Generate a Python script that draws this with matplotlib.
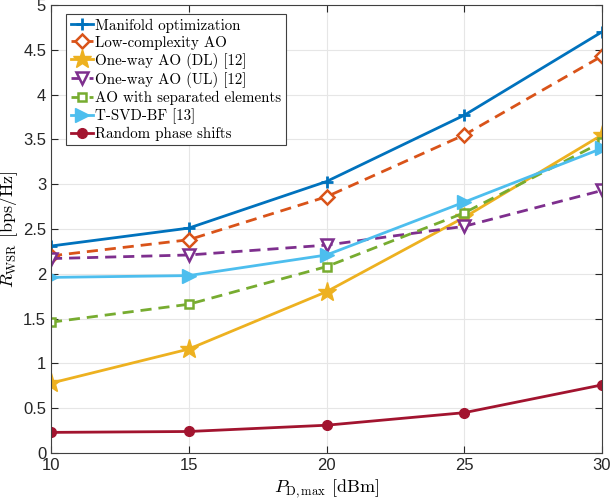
import matplotlib
matplotlib.use("Agg")
import matplotlib.pyplot as plt

plt.rcParams['mathtext.fontset'] = 'cm'

x = [10, 15, 20, 25, 30]
labels = ["Manifold optimization", "Low-complexity AO", "One-way AO (DL) [12]",
          "One-way AO (UL) [12]", "AO with separated elements", "T-SVD-BF [13]",
          "Random phase shifts"]
manifold = [2.31, 2.51, 3.03, 3.77, 4.70]
lowcomp = [2.20, 2.38, 2.86, 3.55, 4.43]
dl = [0.78, 1.16, 1.80, 2.63, 3.55]
ul = [2.17, 2.21, 2.32, 2.53, 2.93]
separated = [1.46, 1.66, 2.08, 2.68, 3.47]
tsvd = [1.96, 1.98, 2.21, 2.80, 3.40]
random_ps = [0.23, 0.24, 0.31, 0.45, 0.76]

series = [manifold, lowcomp, dl, ul, separated, tsvd, random_ps]
colors = ['#0072BD', '#D95319', '#EDB120', '#7E2F8E', '#77AC30', '#4DBEEE', '#A2142F']
styles = [
    dict(ls='-', marker='+', ms=9, mew=2, mfc='none'),
    dict(ls=(0, (4, 2.5)), marker='D', ms=7, mew=1.8, mfc='white'),
    dict(ls='-', marker='*', ms=14, mew=1, mfc=None),
    dict(ls=(0, (4, 2.5)), marker='v', ms=9, mew=1.8, mfc='white'),
    dict(ls=(0, (4, 2.5)), marker='s', ms=6, mew=1.8, mfc='white'),
    dict(ls='-', marker='>', ms=10, mew=1, mfc=None),
    dict(ls='-', marker='o', ms=7, mew=1, mfc=None),
]

fig = plt.figure(figsize=(6.12, 5.0), dpi=100)
ax = fig.add_axes([51/612, 47/500, 551/612, 448/500])

for ys, c, st, lab in zip(series, colors, styles, labels):
    kw = dict(st)
    mfc = kw.pop('mfc')
    if mfc is None:
        mfc = c
    ax.plot(x, ys, color=c, lw=2, mfc=mfc, mec=c, label=lab, **kw)

ax.set_xlim(10, 30)
ax.set_ylim(0, 5)
ax.set_xticks([10, 15, 20, 25, 30])
ax.set_yticks([0, 0.5, 1, 1.5, 2, 2.5, 3, 3.5, 4, 4.5, 5])
ax.set_yticklabels(['0', '0.5', '1', '1.5', '2', '2.5', '3', '3.5', '4', '4.5', '5'])
ax.grid(True, color='#e6e6e6', lw=0.8)
ax.set_axisbelow(True)
ax.tick_params(direction='in', top=True, right=True, labelsize=12, colors='#262626', length=5)
for lbl in ax.get_xticklabels() + ax.get_yticklabels():
    lbl.set_family('Liberation Sans')
for s in ax.spines.values():
    s.set_color('#404040')
    s.set_linewidth(0.8)

ax.set_xlabel(r'$P_{\mathrm{D,max}}$ [dBm]', family='cmr10', fontsize=13, labelpad=3)
ax.set_ylabel(r'$R_{\mathrm{WSR}}$ [bps/Hz]', family='cmr10', fontsize=13, labelpad=2)

leg = ax.legend(loc='upper left', bbox_to_anchor=(15/551, 1 - 9/448), prop={'family': 'cmr10', 'size': 10.8},
                fancybox=False, edgecolor='#404040', framealpha=1, borderpad=0.3,
                labelspacing=0.2, handlelength=1.5, handletextpad=0.15, borderaxespad=0.0)
leg.get_frame().set_linewidth(0.8)

fig.savefig('out.png', dpi=100)
